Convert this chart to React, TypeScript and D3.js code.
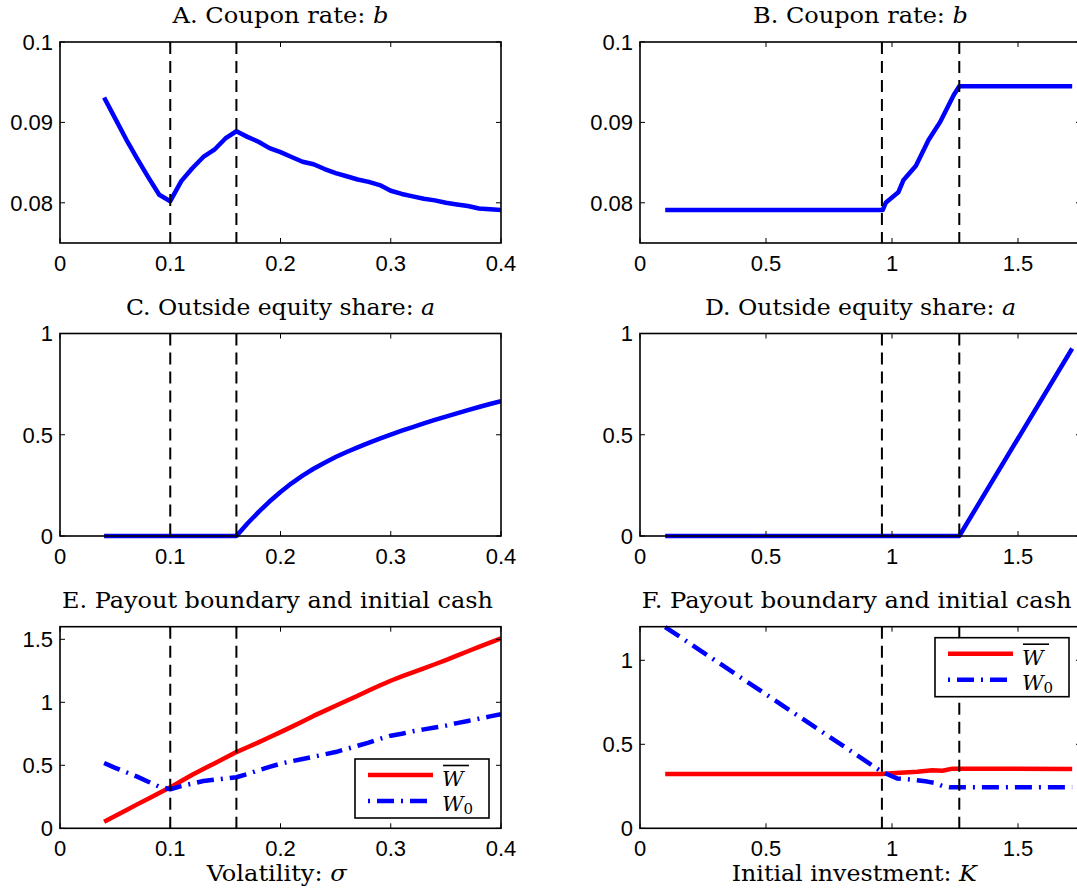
import React from "react";
import * as d3 from "d3";

// ---------- Data ----------
const sigma = [0.04,0.05,0.06,0.07,0.08,0.09,0.10,0.11,0.12,0.13,0.14,0.15,0.16,0.17,0.18,0.19,0.20,0.21,0.22,0.23,0.24,0.25,0.26,0.27,0.28,0.29,0.30,0.31,0.32,0.33,0.34,0.35,0.36,0.37,0.38,0.39,0.40];
const couponSigma = [0.0931,0.0905,0.0879,0.0855,0.0832,0.0810,0.0802,0.0827,0.0843,0.0857,0.0866,0.0880,0.0889,0.0882,0.0876,0.0868,0.0863,0.0857,0.0851,0.0848,0.0842,0.0837,0.0833,0.0829,0.0826,0.0822,0.0815,0.0811,0.0808,0.0805,0.0803,0.0800,0.0798,0.0796,0.0793,0.0792,0.0791];
const equitySigma = [0,0,0,0,0,0,0,0,0,0,0,0,0,0.062,0.118,0.17,0.217,0.26,0.298,0.332,0.362,0.39,0.415,0.438,0.46,0.481,0.501,0.52,0.538,0.556,0.573,0.59,0.606,0.622,0.637,0.652,0.666];
const wbarSigma = [0.052,0.097,0.143,0.19,0.235,0.28,0.325,0.375,0.425,0.47,0.515,0.56,0.605,0.643,0.682,0.722,0.763,0.805,0.848,0.892,0.932,0.972,1.012,1.052,1.093,1.133,1.171,1.205,1.238,1.27,1.302,1.335,1.37,1.405,1.44,1.473,1.507];
const w0Sigma = [0.518,0.48,0.445,0.41,0.37,0.33,0.31,0.335,0.355,0.375,0.385,0.395,0.405,0.43,0.46,0.487,0.513,0.532,0.55,0.568,0.587,0.605,0.63,0.655,0.68,0.71,0.735,0.75,0.77,0.785,0.80,0.815,0.835,0.852,0.87,0.888,0.905];

const kCoupon = [0.1,0.963,0.975,1.025,1.045,1.095,1.145,1.19,1.245,1.267,1.715];
const couponK = [0.0791,0.0791,0.0800,0.0813,0.0828,0.0846,0.0878,0.0900,0.0934,0.0945,0.0945];
const kEquity = [0.1,1.267,1.715];
const equityK = [0,0,0.926];
const kWbar = [0.1,0.96,1.0,1.05,1.1,1.16,1.2,1.24,1.267,1.715];
const wbarK = [0.323,0.323,0.327,0.332,0.336,0.345,0.343,0.355,0.355,0.353];
const kW0 = [0.1,0.96,1.0,1.02,1.08,1.14,1.17,1.2,1.23,1.715];
const w0K = [1.198,0.336,0.31,0.297,0.29,0.278,0.27,0.252,0.244,0.244];

const sigmaCuts = [0.1, 0.16];
const kCuts = [0.96, 1.267];

const ticksSigma = [0, 0.1, 0.2, 0.3, 0.4];
const ticksK = [0, 0.5, 1, 1.5];
const ticksCoupon = [0.08, 0.09, 0.1];
const ticksShare = [0, 0.5, 1];
const ticksPayoutE = [0, 0.5, 1, 1.5];
const ticksPayoutF = [0, 0.5, 1];

// ---------- Layout ----------
const W = 1077, H = 894;
const colL = { x0: 60, x1: 501 };
const colR = { x0: 640, x1: 1081 };
const rows = [
  { y0: 42, y1: 243 },
  { y0: 333.5, y1: 536 },
  { y0: 626.7, y1: 828.3 },
];
const BLUE = "#0000ff";
const RED = "#ff0000";
const TICKFONT = "Liberation Sans, Arial, Helvetica, sans-serif";
const SERIF = "DejaVu Serif, serif";

type Series = { xs: number[]; ys: number[]; color: string; dash?: string };

function fmt(v: number) {
  return String(+v.toFixed(3));
}

function Panel(props: {
  col: { x0: number; x1: number };
  row: { y0: number; y1: number };
  xDomain: [number, number];
  yDomain: [number, number];
  xTicks: number[];
  yTicks: number[];
  cuts: number[];
  series: Series[];
  title: React.ReactNode;
  titleWidth: number;
  titleCx?: number;
  xLabel?: React.ReactNode;
  xLabelWidth?: number;
  xLabelCx?: number;
  legend?: { x: number; y: number };
}) {
  const { col, row } = props;
  const x = d3.scaleLinear().domain(props.xDomain).range([col.x0, col.x1]);
  const y = d3.scaleLinear().domain(props.yDomain).range([row.y1, row.y0]);
  const tl = 5;
  const clipId = `clip-${col.x0}-${Math.round(row.y0)}`;
  return (
    <g>
      <defs>
        <clipPath id={clipId}>
          <rect x={col.x0} y={row.y0 - 4} width={col.x1 - col.x0} height={row.y1 - row.y0 + 8} />
        </clipPath>
      </defs>
      <g clipPath={`url(#${clipId})`}>
        {props.series.map((s, i) => {
          const line = d3
            .line<number>()
            .x((_, j) => x(s.xs[j]))
            .y((d) => y(d));
          return (
            <path
              key={i}
              d={line(s.ys) || ""}
              fill="none"
              stroke={s.color}
              strokeWidth={4.5}
              strokeDasharray={s.dash}
              strokeLinejoin="round"
            />
          );
        })}
      </g>
      {props.cuts.map((c, i) => (
        <line
          key={i}
          x1={x(c)}
          x2={x(c)}
          y1={row.y0}
          y2={row.y1}
          stroke="#000"
          strokeWidth={2}
          strokeDasharray="12 7"
        />
      ))}
      <rect
        x={col.x0}
        y={row.y0}
        width={col.x1 - col.x0}
        height={row.y1 - row.y0}
        fill="none"
        stroke="#000"
        strokeWidth={1.6}
      />
      {props.xTicks.map((t, i) => (
        <g key={"xt" + i}>
          <line x1={x(t)} x2={x(t)} y1={row.y1} y2={row.y1 - tl} stroke="#000" strokeWidth={1} />
          <line x1={x(t)} x2={x(t)} y1={row.y0} y2={row.y0 + tl} stroke="#000" strokeWidth={1} />
          <text
            x={x(t)}
            y={row.y1 + 28}
            textAnchor="middle"
            fontFamily={TICKFONT}
            fontSize={22}
            fill="#000"
          >
            {fmt(t)}
          </text>
        </g>
      ))}
      {props.yTicks.map((t, i) => (
        <g key={"yt" + i}>
          <line x1={col.x0} x2={col.x0 + tl} y1={y(t)} y2={y(t)} stroke="#000" strokeWidth={1} />
          <line x1={col.x1} x2={col.x1 - tl} y1={y(t)} y2={y(t)} stroke="#000" strokeWidth={1} />
          <text
            x={col.x0 - 7}
            y={y(t) + 7.8}
            textAnchor="end"
            fontFamily={TICKFONT}
            fontSize={22}
            fill="#000"
          >
            {fmt(t)}
          </text>
        </g>
      ))}
      <text
        x={props.titleCx ?? (col.x0 + col.x1) / 2}
        y={row.y0 - 19}
        textAnchor="middle"
        fontFamily={SERIF}
        fontSize={23}
        textLength={props.titleWidth}
        lengthAdjust="spacingAndGlyphs"
        fill="#000"
      >
        {props.title}
      </text>
      {props.xLabel && (
        <text
          x={props.xLabelCx ?? (col.x0 + col.x1) / 2}
          y={row.y1 + 53}
          textAnchor="middle"
          fontFamily={SERIF}
          fontSize={23}
          textLength={props.xLabelWidth}
          lengthAdjust="spacingAndGlyphs"
          fill="#000"
        >
          {props.xLabel}
        </text>
      )}
      {props.legend && (
        <g>
          <rect
            x={props.legend.x}
            y={props.legend.y}
            width={134}
            height={59}
            fill="#fff"
            stroke="#000"
            strokeWidth={1.6}
          />
          <line
            x1={props.legend.x + 13}
            x2={props.legend.x + 78}
            y1={props.legend.y + 16}
            y2={props.legend.y + 16}
            stroke={RED}
            strokeWidth={4.5}
          />
          <line
            x1={props.legend.x + 13}
            x2={props.legend.x + 78}
            y1={props.legend.y + 42}
            y2={props.legend.y + 42}
            stroke={BLUE}
            strokeWidth={4.5}
            strokeDasharray="2 7 17 7"
          />
          <line
            x1={props.legend.x + 88}
            x2={props.legend.x + 114}
            y1={props.legend.y + 6.5}
            y2={props.legend.y + 6.5}
            stroke="#000"
            strokeWidth={1.6}
          />
          <text
            x={props.legend.x + 87}
            y={props.legend.y + 27}
            fontFamily={SERIF}
            fontStyle="italic"
            fontSize={21}
            fill="#000"
          >
            W
          </text>
          <text
            x={props.legend.x + 87}
            y={props.legend.y + 52}
            fontFamily={SERIF}
            fontSize={21}
            fill="#000"
          >
            <tspan fontStyle="italic">W</tspan>
            <tspan fontSize={15} dy={3}>0</tspan>
          </text>
        </g>
      )}
    </g>
  );
}

export default function App() {
  const dashDot = "17 7 2 7";
  return (
    <svg
      width={W}
      height={H}
      style={{ position: "absolute", left: 0, top: 0, background: "#fff" }}
    >
      <rect x={0} y={0} width={W} height={H} fill="#fff" />
      <Panel
        col={colL}
        row={rows[0]}
        xDomain={[0, 0.4]}
        yDomain={[0.075, 0.1]}
        xTicks={ticksSigma}
        yTicks={ticksCoupon}
        cuts={sigmaCuts}
        series={[{ xs: sigma, ys: couponSigma, color: BLUE }]}
        title={<>A. Coupon rate: <tspan fontStyle="italic">b</tspan></>}
        titleWidth={216}
      />
      <Panel
        col={colR}
        row={rows[0]}
        xDomain={[0, 1.75]}
        yDomain={[0.075, 0.1]}
        xTicks={ticksK}
        yTicks={ticksCoupon}
        cuts={kCuts}
        series={[{ xs: kCoupon, ys: couponK, color: BLUE }]}
        title={<>B. Coupon rate: <tspan fontStyle="italic">b</tspan></>}
        titleWidth={215}
      />
      <Panel
        col={colL}
        row={rows[1]}
        xDomain={[0, 0.4]}
        yDomain={[0, 1]}
        xTicks={ticksSigma}
        yTicks={ticksShare}
        cuts={sigmaCuts}
        series={[{ xs: sigma, ys: equitySigma, color: BLUE }]}
        title={<>C. Outside equity share: <tspan fontStyle="italic">a</tspan></>}
        titleWidth={309}
      />
      <Panel
        col={colR}
        row={rows[1]}
        xDomain={[0, 1.75]}
        yDomain={[0, 1]}
        xTicks={ticksK}
        yTicks={ticksShare}
        cuts={kCuts}
        series={[{ xs: kEquity, ys: equityK, color: BLUE }]}
        title={<>D. Outside equity share: <tspan fontStyle="italic">a</tspan></>}
        titleWidth={311}
      />
      <Panel
        col={colL}
        row={rows[2]}
        xDomain={[0, 0.4]}
        yDomain={[0, 1.6]}
        xTicks={ticksSigma}
        yTicks={ticksPayoutE}
        cuts={sigmaCuts}
        series={[
          { xs: sigma, ys: wbarSigma, color: RED },
          { xs: sigma, ys: w0Sigma, color: BLUE, dash: dashDot },
        ]}
        title={<>E. Payout boundary and initial cash</>}
        titleWidth={431}
        titleCx={277.5}
        xLabel={<>Volatility: <tspan fontStyle="italic">σ</tspan></>}
        xLabelWidth={140}
        xLabelCx={276.7}
        legend={{ x: 355, y: 759 }}
      />
      <Panel
        col={colR}
        row={rows[2]}
        xDomain={[0, 1.75]}
        yDomain={[0, 1.2]}
        xTicks={ticksK}
        yTicks={ticksPayoutF}
        cuts={kCuts}
        series={[
          { xs: kWbar, ys: wbarK, color: RED },
          { xs: kW0, ys: w0K, color: BLUE, dash: dashDot },
        ]}
        title={<>F. Payout boundary and initial cash</>}
        titleWidth={430}
        titleCx={856.7}
        xLabel={<>Initial investment: <tspan fontStyle="italic">K</tspan></>}
        xLabelWidth={245}
        xLabelCx={854.2}
        legend={{ x: 935, y: 637.7 }}
      />
    </svg>
  );
}
